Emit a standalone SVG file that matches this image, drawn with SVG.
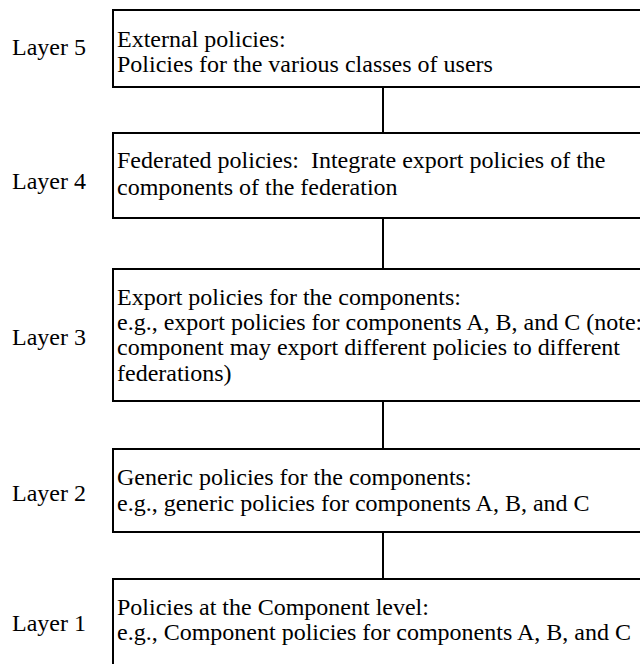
<svg xmlns="http://www.w3.org/2000/svg" width="640" height="664" viewBox="0 0 640 664">
<style>
.box{fill:#fff;stroke:#000;stroke-width:2}
.conn{stroke:#000;stroke-width:2;fill:none}
text{font-family:"Liberation Serif","Times New Roman",serif;font-size:24px;fill:#000;white-space:pre}
</style>
<rect width="640" height="664" fill="#fff"/>
<g id="connectors">
<line class="conn" x1="383" y1="87" x2="383" y2="133"/>
<line class="conn" x1="383" y1="218" x2="383" y2="269"/>
<line class="conn" x1="383" y1="401" x2="383" y2="449"/>
<line class="conn" x1="383" y1="532" x2="383" y2="579"/>
</g>
<g id="layer5">
<rect class="box" x="113" y="10" width="540" height="77"/>
<text x="12" y="55">Layer 5</text>
<text x="117" y="47">External policies:</text>
<text x="117" y="72">Policies for the various classes of users</text>
</g>
<g id="layer4">
<rect class="box" x="113" y="133" width="540" height="85"/>
<text x="12" y="189">Layer 4</text>
<text x="117" y="168" xml:space="preserve">Federated policies:  Integrate export policies of the</text>
<text x="117" y="195">components of the federation</text>
</g>
<g id="layer3">
<rect class="box" x="113" y="269" width="540" height="132"/>
<text x="12" y="345">Layer 3</text>
<text x="117" y="305">Export policies for the components:</text>
<text x="117" y="330">e.g., export policies for components A, B, and C (note:</text>
<text x="117" y="355">component may export different policies to different</text>
<text x="117" y="381">federations)</text>
</g>
<g id="layer2">
<rect class="box" x="113" y="449" width="540" height="83"/>
<text x="12" y="501">Layer 2</text>
<text x="117" y="485">Generic policies for the components:</text>
<text x="117" y="511">e.g., generic policies for components A, B, and C</text>
</g>
<g id="layer1">
<rect class="box" x="113" y="579" width="540" height="100"/>
<text x="12" y="631">Layer 1</text>
<text x="117" y="615">Policies at the Component level:</text>
<text x="117" y="640">e.g., Component policies for components A, B, and C</text>
</g>
</svg>
